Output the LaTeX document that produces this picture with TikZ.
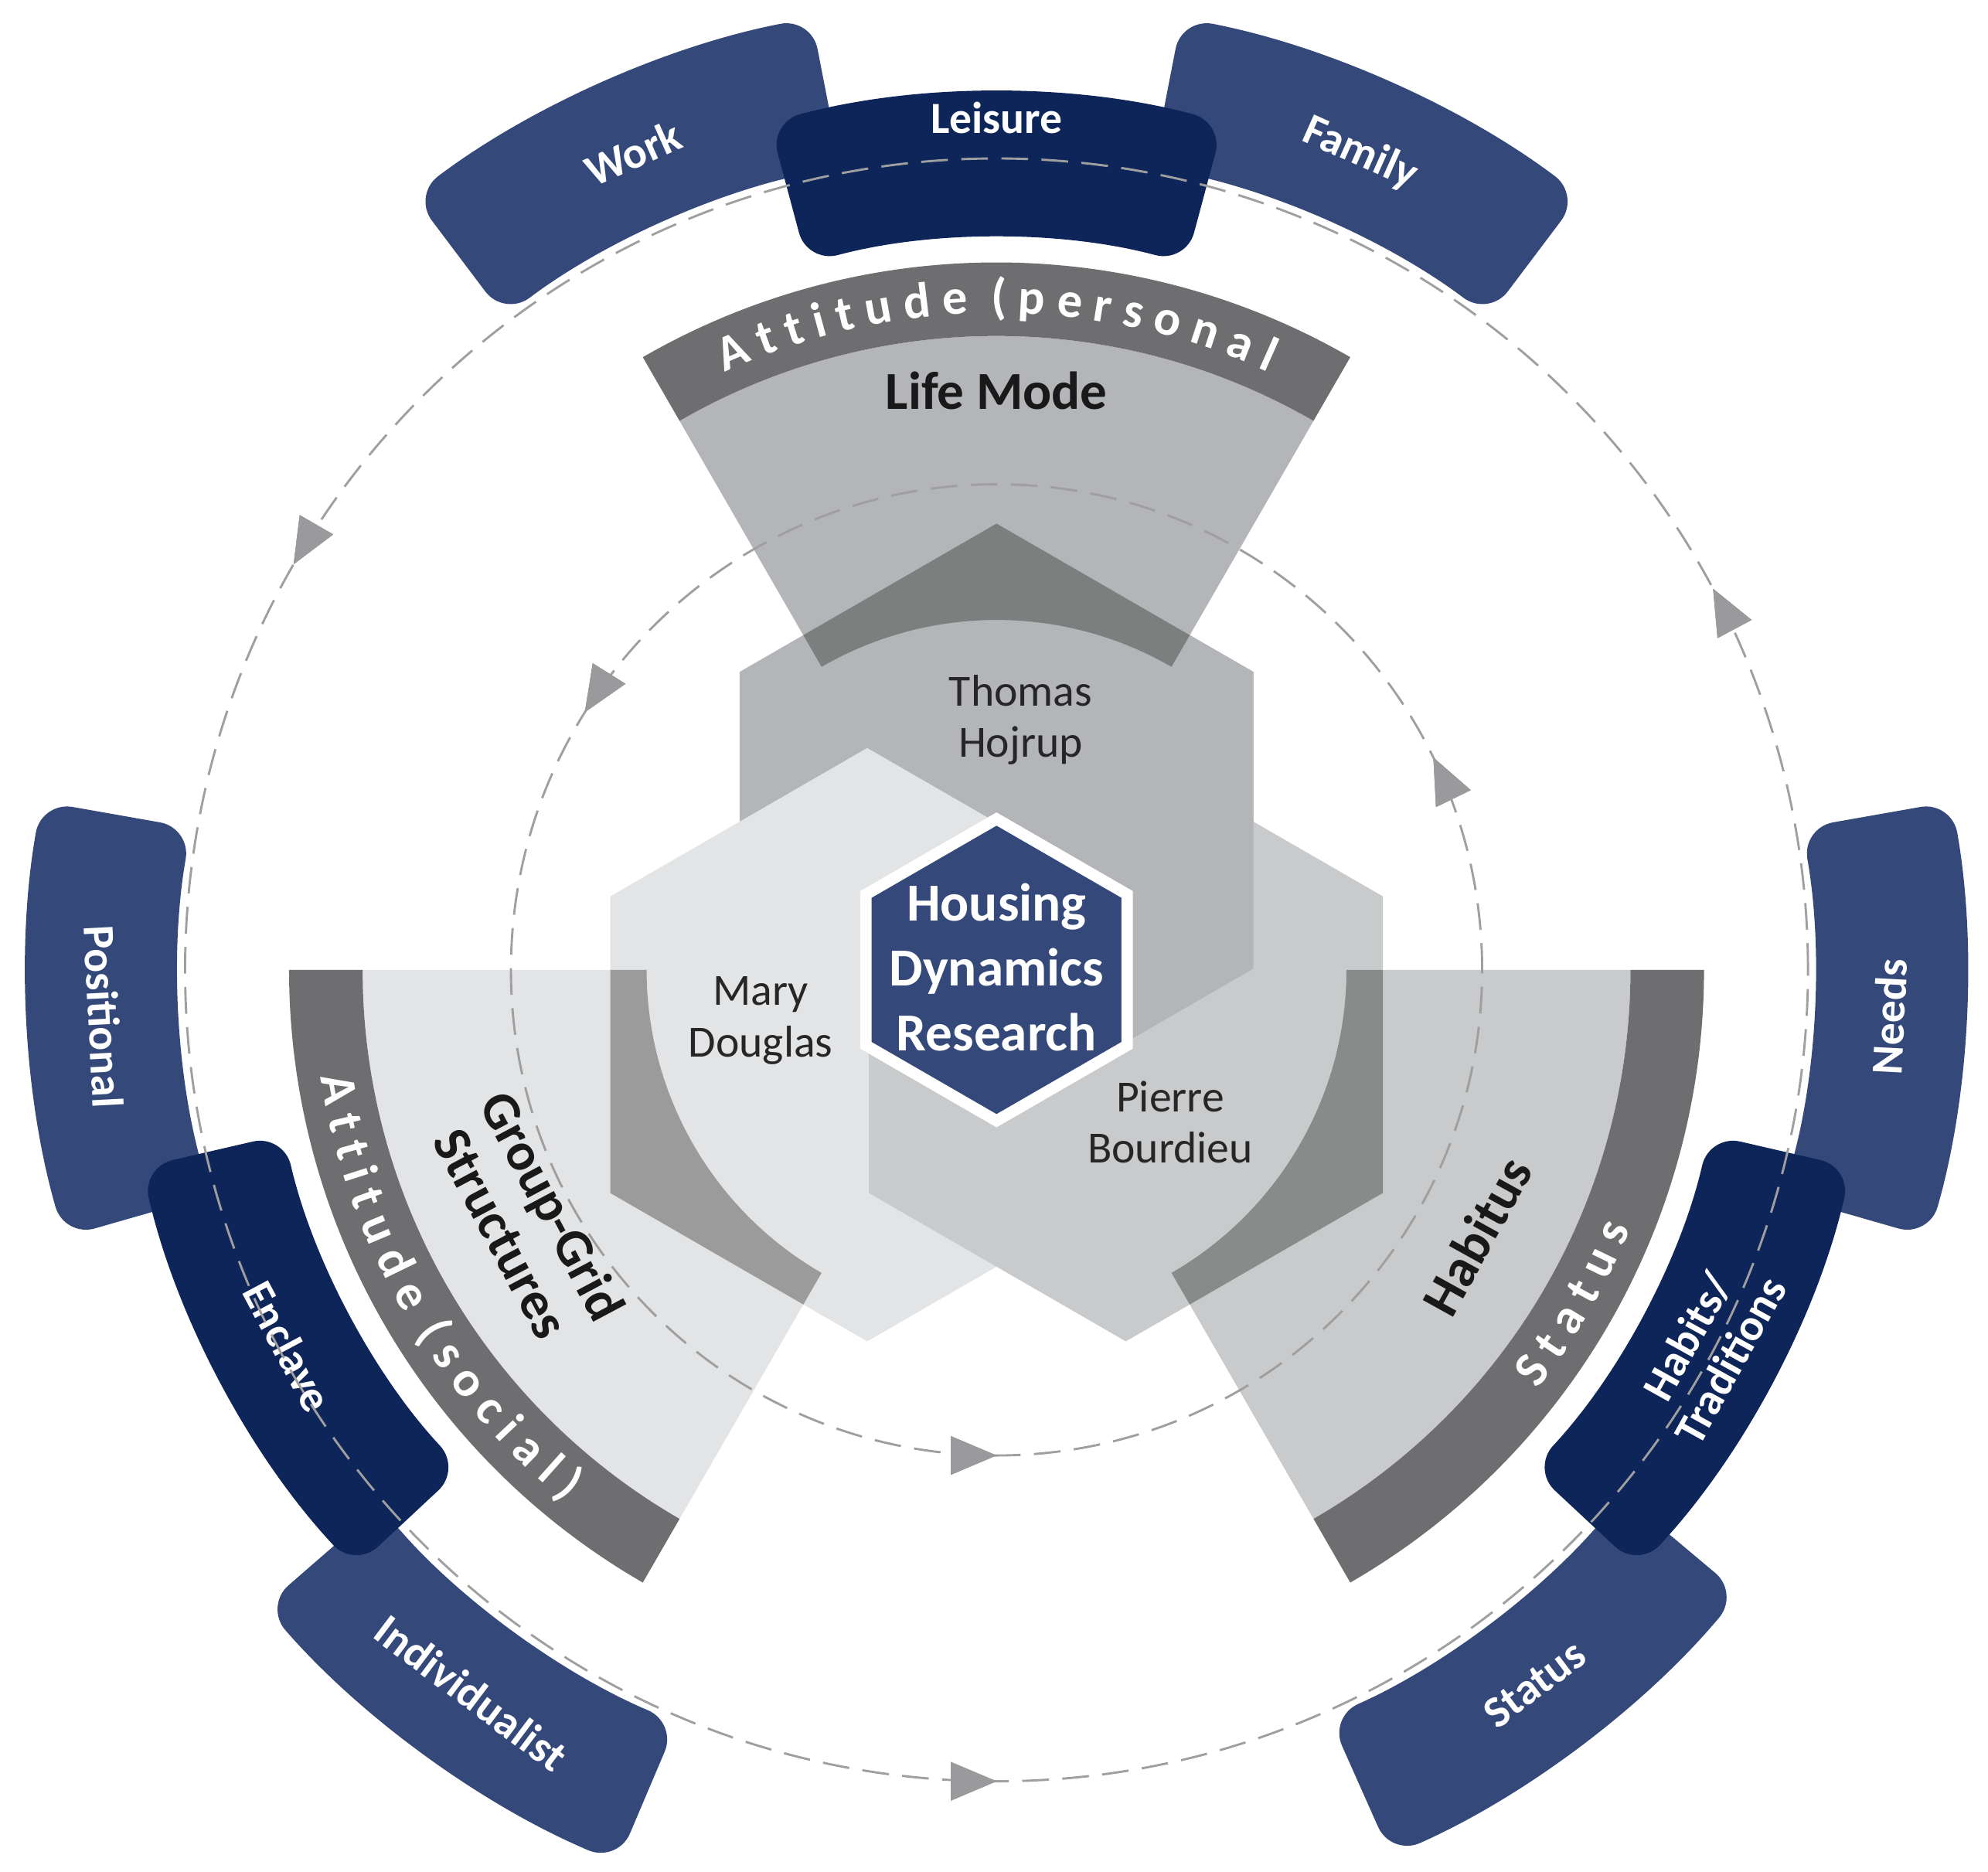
\documentclass[tikz,border=0pt]{standalone}
\usepackage{fontspec}
\setmainfont{Carlito}
\usetikzlibrary{arrows.meta,decorations.markings,decorations.text}

\definecolor{tabblue}{HTML}{34497A}
\definecolor{tabnavy}{HTML}{0E2559}
\definecolor{bandgray}{HTML}{6E6E70}
\definecolor{thomasfill}{HTML}{B3B5B8}
\definecolor{maryfill}{HTML}{E3E4E6}
\definecolor{pierrefill}{HTML}{C9CACC}
\definecolor{thomaschev}{HTML}{7D7F7E}
\definecolor{marychev}{HTML}{9B9B9B}
\definecolor{pierrechev}{HTML}{898B8A}
\definecolor{arrowgray}{HTML}{9A9A9C}

\newcommand\annsec[4]{(#1:#3) arc[start angle=#1,end angle=#2,radius=#3] -- (#2:#4) arc[start angle=#2,end angle=#1,radius=#4] -- cycle}
\newcommand\hexat[2]{(#1) +(90:#2) -- +(30:#2) -- +(-30:#2) -- +(-90:#2) -- +(-150:#2) -- +(150:#2) -- cycle}
\newfontfamily\bandfont{Carlito}[Scale=1.12]

\tikzset{
  tab/.style={fill=tabblue, rounded corners=0.25cm},
  tabdark/.style={fill=tabnavy, rounded corners=0.25cm},
  tablbl/.style={text=white, font=\fontsize{10}{12}\selectfont\bfseries, align=center},
  hexlbl/.style={font=\fontsize{10}{11.5}\selectfont, align=center, text=black!85},
  seclbl/.style={font=\fontsize{12}{13}\selectfont\bfseries, align=center, text=black!90},
  flow/.style={draw=gray!75, line width=0.5pt, dash pattern=on 6pt off 3pt},
  tips/.style={postaction={decorate}, decoration={markings,
      mark=at position #1 with {\arrow[arrowgray]{Triangle[length=0.36cm,width=0.3cm]}}}},
}

\begin{document}
\begin{tikzpicture}
\useasboundingbox (-7.86,-7.11) rectangle (7.82,7.65);

% sectors
\fill[thomasfill] \annsec{60}{120}{2.76}{5.0};
\fill[bandgray] \annsec{60}{120}{5.0}{5.58};
\fill[maryfill] \annsec{180}{240}{2.76}{5.0};
\fill[bandgray] \annsec{180}{240}{5.0}{5.58};
\fill[pierrefill] \annsec{300}{360}{2.76}{5.0};
\fill[bandgray] \annsec{300}{360}{5.0}{5.58};

% hexagons
\coordinate (hThomas) at (0,1.18);
\coordinate (hMary) at (-1.02,-0.59);
\coordinate (hPierre) at (1.02,-0.59);
\fill[thomasfill] \hexat{hThomas}{2.34};
\fill[maryfill] \hexat{hMary}{2.34};
\fill[pierrefill] \hexat{hPierre}{2.34};
\begin{scope}
  \clip (0,-8) rectangle (8,8);
  \fill[thomasfill] \hexat{hThomas}{2.34};
\end{scope}

% chevrons
\begin{scope}
  \clip \hexat{hThomas}{2.34};
  \fill[thomaschev] \annsec{60}{120}{2.76}{5.0};
\end{scope}
\begin{scope}
  \clip \hexat{hMary}{2.34};
  \fill[marychev] \annsec{180}{240}{2.76}{5.0};
\end{scope}
\begin{scope}
  \clip \hexat{hPierre}{2.34};
  \fill[pierrechev] \annsec{300}{360}{2.76}{5.0};
\end{scope}

% centre
\coordinate (hCentre) at (0,0);
\draw[white, line width=0.09cm, fill=tabblue] \hexat{hCentre}{1.19};
\node[font=\fontsize{12}{14.5}\selectfont\bfseries, text=white, align=center] (hdr) at (0,0.02) {Housing\\Dynamics\\Research};

% hexagon labels
\node[hexlbl] (thomas) at (0.19,1.97) {Thomas\\Hojrup};
\node[hexlbl] (mary) at (-1.86,-0.4) {Mary\\Douglas};
\node[hexlbl] (pierre) at (1.37,-1.2) {Pierre\\Bourdieu};

% sector labels
\node[seclbl] (lifemode) at (90:4.57) {Life Mode};
\node[seclbl, rotate=-62] (groupgrid) at (208:4.19) {Group-Grid\\Structures};
\node[seclbl, rotate=61] (habitus) at (331:4.33) {Habitus};

% band texts
\path[decorate, decoration={text along path, text align=center, text color=white,
  text={|\bandfont\bfseries|A t t i t u d e \ ( p e r s o n a l}}]
  (120:5.18) arc[start angle=120, end angle=60, radius=5.18];
\path[decorate, decoration={text along path, text align=center, text color=white,
  text={|\bandfont\bfseries|A t t i t u d e \ ( s o c i a l )}}]
  (180:5.40) arc[start angle=180, end angle=240, radius=5.40];
\path[decorate, decoration={text along path, text align=center, text color=white,
  text={|\bandfont\bfseries|S t a t u s}}]
  (300:5.40) arc[start angle=300, end angle=360, radius=5.40];

% outer tabs
\fill[tab] \annsec{101}{127}{6.45}{7.65};
\fill[tab] \annsec{53}{79}{6.45}{7.65};
\fill[tab] \annsec{170}{196}{6.45}{7.65};
\fill[tab] \annsec{221}{247}{6.45}{7.65};
\fill[tab] \annsec{344}{370}{6.45}{7.65};
\fill[tab] \annsec{294}{320}{6.45}{7.65};
\fill[tabdark] \annsec{75}{105}{5.77}{6.92};
\fill[tabdark] \annsec{193}{223}{5.77}{6.92};
\fill[tabdark] \annsec{317}{347}{5.77}{6.92};

\node[tablbl, rotate=24] (work) at (114:7.05) {Work};
\node[tablbl, rotate=-24] (family) at (66:7.05) {Family};
\node[tablbl] (leisure) at (90:6.72) {Leisure};
\node[tablbl, rotate=-87] (positional) at (183:7.05) {Positional};
\node[tablbl, rotate=-37] (individualist) at (234:7.05) {Individualist};
\node[tablbl, rotate=-62] (enclave) at (208:6.33) {Enclave};
\node[tablbl, rotate=87] (needs) at (357:7.05) {Needs};
\node[tablbl, rotate=37] (status) at (307:7.05) {Status};
\node[tablbl, rotate=61, font=\fontsize{10}{11}\selectfont\bfseries] (habits) at (332:6.36) {Habits/\\Traditions};

% flow circles
\draw[flow, tips=0.0778, tips=0.4167, tips=0.75] (0,0) circle[radius=6.4];
\draw[flow, tips=0.072, tips=0.411, tips=0.75] (0,0) circle[radius=3.83];
\end{tikzpicture}
\end{document}
